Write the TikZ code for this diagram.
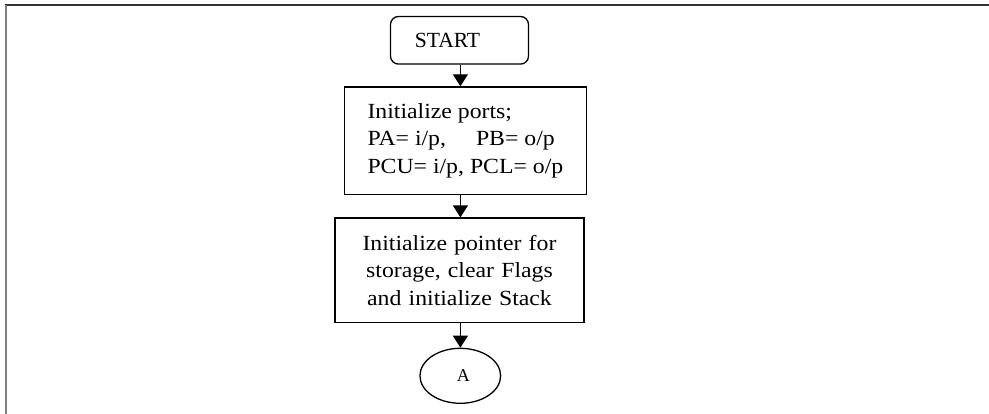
\documentclass[tikz,border=0pt]{standalone}
\usepackage{fontspec}
\setmainfont{Liberation Serif}
\newfontfamily\boxfont{Liberation Serif}[FakeStretch=1.1]
\usetikzlibrary{arrows.meta,shapes.geometric}
\tikzset{
  flowbox/.style={draw=black, line width=1.3pt, inner sep=0pt, font=\boxfont\fontsize{21.6}{27.3}\selectfont},
  startbox/.style={draw=black, line width=1.3pt, rounded corners=8pt, inner sep=0pt, font=\fontsize{21.6}{26}\selectfont},
  connbox/.style={draw=black, line width=1.3pt, ellipse, inner sep=0pt, font=\fontsize{18}{21}\selectfont},
  arr/.style={line width=1.3pt, -{Triangle[length=12pt,width=15pt]}},
  frametop/.style={line width=1.5pt, black!80},
  frameleft/.style={line width=2pt, black!50}
}
\begin{document}
\begin{tikzpicture}[x=1pt,y=-1pt]
\useasboundingbox (0,0) rectangle (989,414);
\coordinate (ftl) at (6,5);
\coordinate (ftr) at (989,5);
\coordinate (fbl) at (6,414);
\draw[frametop] (5,5) -- (ftr);
\draw[frameleft] (ftl) -- (fbl);

\node[startbox, minimum width=138pt, minimum height=47.6pt] (start) at (459.5,40.3) {START\kern24pt};
\node[flowbox, minimum width=242.2pt, minimum height=107.3pt, align=left] (b1) at (465.4,140.6)
  {Initialize ports;\\PA= i/p,\hspace*{30pt}PB= o/p\\PCU= i/p, PCL= o/p};
\node[flowbox, minimum width=249pt, minimum height=104.7pt, text width=230pt, align=center] (b2) at (459.5,270.4)
  {Initialize pointer for\\storage, clear Flags\\and initialize Stack};
\node[connbox, minimum width=80.7pt, minimum height=55pt] (a) at (460.3,375.8) {\kern6pt A};

\coordinate (x0) at (460.4,0);
\draw[arr] (x0 |- start.south) -- (x0 |- b1.north);
\draw[arr] (x0 |- b1.south) -- (x0 |- b2.north);
\draw[arr] (x0 |- b2.south) -- (x0 |- a.north);
\end{tikzpicture}
\end{document}
